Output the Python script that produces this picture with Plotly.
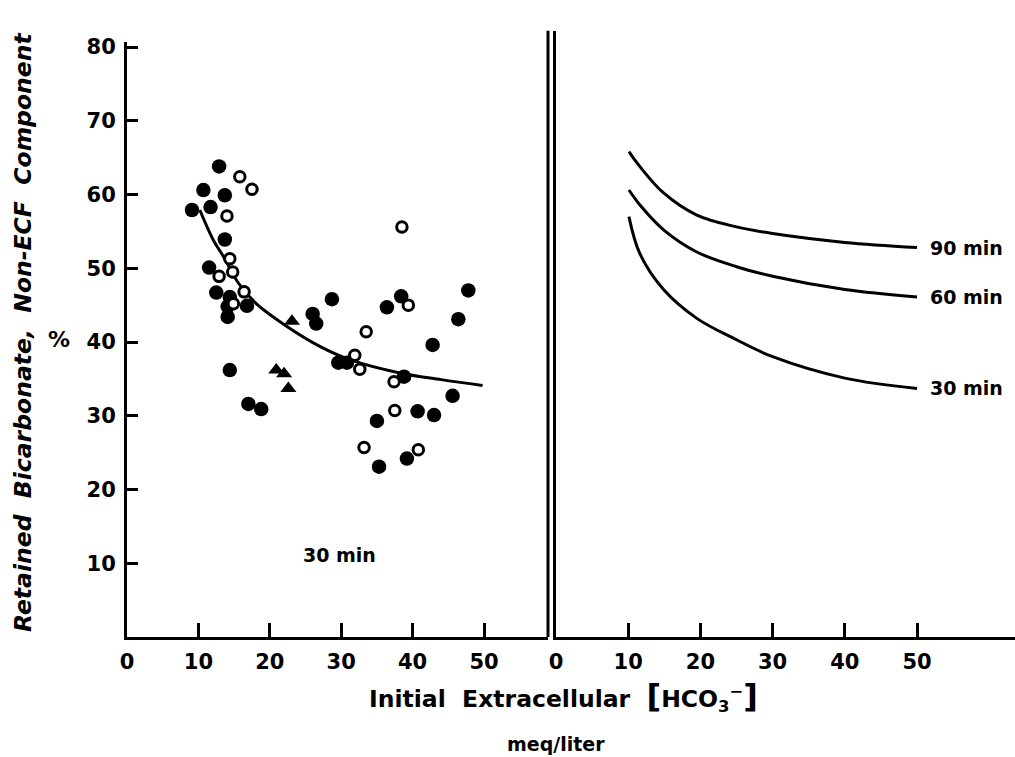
import plotly.graph_objects as go

# ---------------- data ----------------
filled_x = [12.9, 10.7, 13.7, 9.1, 11.7, 13.7, 11.5, 12.5, 14.4, 16.8, 14.1, 14.1, 14.4, 17.0, 18.8,
            26.0, 26.5, 28.7, 38.4, 36.4, 47.8, 46.4, 42.8, 29.6, 30.8, 38.8, 45.6, 35.0, 40.7, 43.0,
            35.3, 39.2]
filled_y = [63.8, 60.6, 59.9, 57.9, 58.3, 53.9, 50.1, 46.7, 46.1, 44.9, 44.8, 43.4, 36.2, 31.6, 30.9,
            43.8, 42.5, 45.8, 46.2, 44.7, 47.0, 43.1, 39.6, 37.2, 37.2, 35.3, 32.7, 29.3, 30.6, 30.1,
            23.1, 24.2]

open_x = [15.8, 17.5, 14.0, 14.4, 14.8, 12.9, 16.4, 14.9,
          38.5, 39.4, 33.5, 31.9, 32.6, 37.4, 37.5, 33.2, 40.8]
open_y = [62.4, 60.7, 57.1, 51.3, 49.5, 48.9, 46.8, 45.2,
          55.6, 45.0, 41.4, 38.2, 36.3, 34.6, 30.7, 25.7, 25.4]

tri_x = [23.1, 20.9, 22.0, 22.6]
tri_y = [42.8, 36.2, 35.7, 33.7]

fit_x = [10.2, 12.1, 13.5, 15.6, 18.1, 22.4, 27.0, 31.2, 38.2, 44.0, 49.8]
fit_y = [57.9, 53.8, 51.6, 48.0, 45.2, 42.1, 39.4, 37.6, 35.8, 34.9, 34.1]

curve_x = [10.1, 11.6, 14.9, 19.5, 25.0, 30.0, 40.0, 50.0]
curve_90 = [65.8, 63.8, 60.2, 57.2, 55.6, 54.7, 53.5, 52.8]
curve_60 = [60.6, 58.6, 55.2, 52.2, 50.2, 48.9, 47.1, 46.1]
curve_30 = [57.0, 52.0, 47.1, 43.2, 40.3, 38.0, 35.1, 33.7]
curve_names = ["90 min", "60 min", "30 min"]

x_ticks = [0, 10, 20, 30, 40, 50]
y_ticks = [10, 20, 30, 40, 50, 60, 70, 80]

# ---------------- figure ----------------
FONT = "'DejaVu Sans', sans-serif"
W, H = 1015, 757
fig = go.Figure()

fig.add_trace(go.Scatter(x=fit_x, y=fit_y, mode="lines", line=dict(color="black", width=3, shape="spline"),
                         xaxis="x", yaxis="y", showlegend=False))
fig.add_trace(go.Scatter(x=filled_x, y=filled_y, mode="markers",
                         marker=dict(symbol="circle", size=14.5, color="black"),
                         xaxis="x", yaxis="y", showlegend=False))
fig.add_trace(go.Scatter(x=open_x, y=open_y, mode="markers",
                         marker=dict(symbol="circle", size=10.5, color="white",
                                     line=dict(color="black", width=3)),
                         xaxis="x", yaxis="y", showlegend=False))
fig.add_trace(go.Scatter(x=tri_x, y=tri_y, mode="markers",
                         marker=dict(symbol="triangle-up", size=14, color="black"),
                         xaxis="x", yaxis="y", showlegend=False))

for yy, name in zip([curve_90, curve_60, curve_30], curve_names):
    fig.add_trace(go.Scatter(x=curve_x, y=yy, mode="lines",
                             line=dict(color="black", width=3, shape="spline"),
                             xaxis="x2", yaxis="y2", showlegend=False))
    fig.add_annotation(x=curve_x[-1], y=yy[-1], xref="x2", yref="y2", text=name,
                       showarrow=False, xanchor="left", yanchor="middle", xshift=11,
                       font=dict(family=FONT, size=19, color="black", weight="bold"))

tickfont = dict(family=FONT, size=21, color="black", weight="bold")
common = dict(showline=True, linecolor="black", linewidth=3, ticks="inside", tickcolor="black",
              tickwidth=2.5, showgrid=False, zeroline=False, tickfont=tickfont, fixedrange=True,
              automargin=False)

fig.update_layout(
    width=W, height=H, margin=dict(l=0, r=0, t=0, b=0, pad=0),
    paper_bgcolor="white", plot_bgcolor="white",
    xaxis=dict(domain=[127/W, 548/W], range=[0, 58.96], tickvals=x_ticks, ticklen=14,
               anchor="y", ticklabelstandoff=4, **common),
    yaxis=dict(domain=[1-637/H, 1-42/H], range=[0, 80.68], tickvals=y_ticks, ticklen=11,
               anchor="x", ticklabelstandoff=4, **common),
    xaxis2=dict(domain=[556/W, 1.0], range=[0, 63.57], tickvals=x_ticks, ticklen=14,
                anchor="y2", ticklabelstandoff=4, **common),
    yaxis2=dict(domain=[1-637/H, 1-30.7/H], range=[0, 82.2], tickvals=[], anchor="x2", **common),
)

# double vertical divider: right edge of left panel
fig.add_shape(type="line", xref="paper", yref="paper", x0=548/W, x1=548/W,
              y0=1-637/H, y1=1-30.7/H, line=dict(color="black", width=3))

fig.add_annotation(x=29.8, y=11.1, xref="x", yref="y", text="30 min", showarrow=False,
                   xanchor="center", yanchor="middle",
                   font=dict(family=FONT, size=19, color="black", weight="bold"))

fig.add_annotation(x=23/W, y=1-333/H, xref="paper", yref="paper",
                   text="<i>Retained  Bicarbonate,  Non-ECF  Component</i>", textangle=-90,
                   xanchor="center", yanchor="middle",
                   showarrow=False, font=dict(family=FONT, size=23.5, color="black", weight="bold"))
fig.add_annotation(x=59/W, y=1-340/H, xref="paper", yref="paper", text="%",
                   xanchor="center", yanchor="middle",
                   showarrow=False, font=dict(family=FONT, size=22, color="black", weight="bold"))

fig.add_annotation(x=563/W, y=1-696/H, xref="paper", yref="paper",
                   text="Initial  Extracellular  <span style='font-size:32px'>[</span>HCO<sub>3</sub><sup>−</sup><span style='font-size:32px'>]</span>",
                   xanchor="center", yanchor="middle",
                   showarrow=False, font=dict(family=FONT, size=23.5, color="black", weight="bold"))
fig.add_annotation(x=556/W, y=1-744/H, xref="paper", yref="paper", text="meq/liter",
                   xanchor="center", yanchor="middle",
                   showarrow=False, font=dict(family=FONT, size=19, color="black", weight="bold"))

fig.write_html("out.html", config={"displayModeBar": False},
               post_script="document.body.style.margin='0';")
